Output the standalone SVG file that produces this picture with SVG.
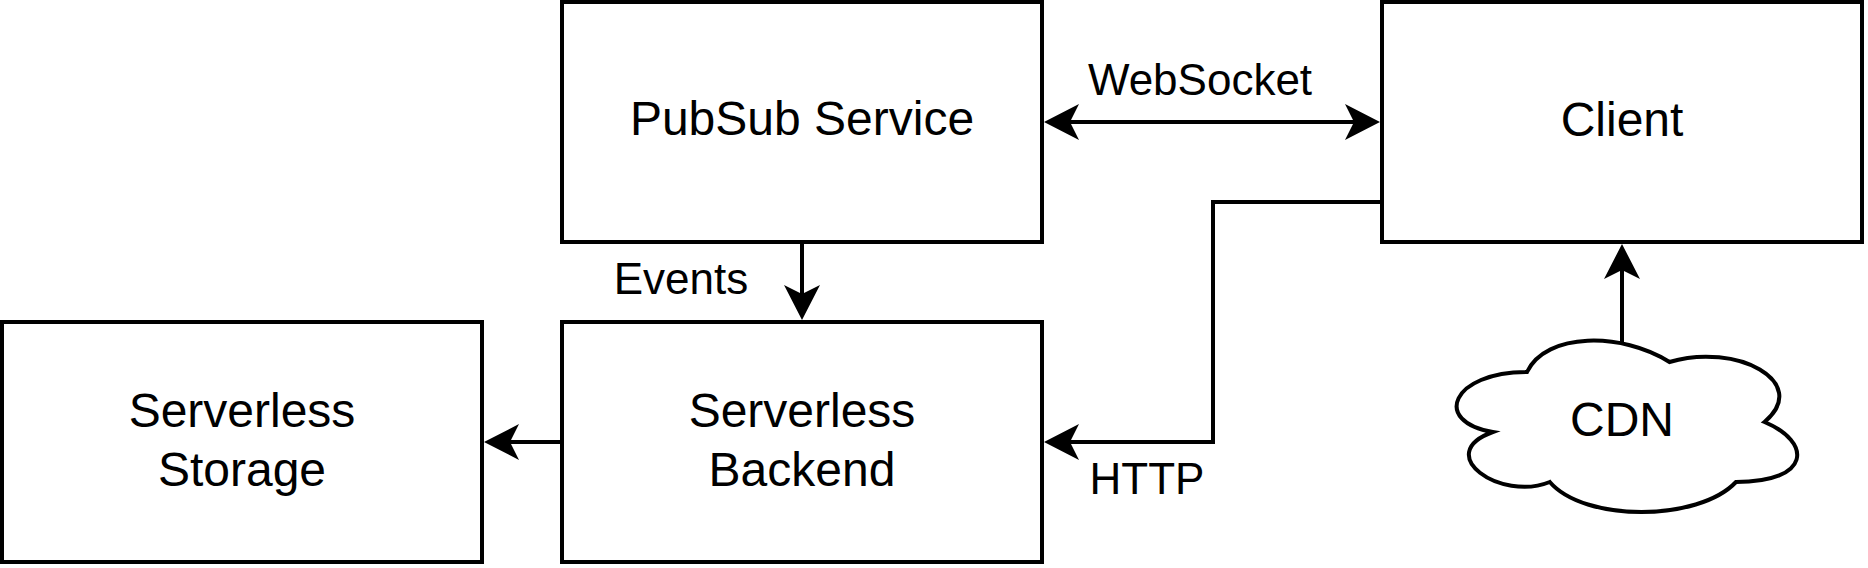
<svg xmlns="http://www.w3.org/2000/svg" width="1868" height="568" viewBox="0 0 1868 568">
<style>
.box{fill:#fff;stroke:#000;stroke-width:4}
.lbl{font-family:"Liberation Sans",Arial,sans-serif;font-size:48px;fill:#000;text-anchor:middle}
.elbl{font-family:"Liberation Sans",Arial,sans-serif;font-size:44px;fill:#000;text-anchor:middle}
.edge{fill:none;stroke:#000;stroke-width:4}
</style>
<defs>
<marker id="arr" markerUnits="userSpaceOnUse" viewBox="-10 -19 37 38" markerWidth="37" markerHeight="38" refX="0" refY="0" orient="auto-start-reverse">
<path d="M26,0 L-9,-18 L0,0 L-9,18 Z" fill="#000"/>
</marker>
</defs>
<rect width="1868" height="568" fill="#fff"/>
<g id="connectors">
<path class="edge" d="M1070,122 L1354,122" marker-start="url(#arr)" marker-end="url(#arr)"/>
<path class="edge" d="M802,242 L802,294" marker-end="url(#arr)"/>
<path class="edge" d="M562,442 L510,442" marker-end="url(#arr)"/>
<path class="edge" d="M1382,202 L1213,202 L1213,442 L1070,442" marker-end="url(#arr)"/>
<path class="edge" d="M1622,343 L1622,270" marker-end="url(#arr)"/>
<text class="elbl" x="1200" y="95">WebSocket</text>
<text class="elbl" x="681" y="294">Events</text>
<text class="elbl" x="1147" y="494">HTTP</text>
</g>
<g id="pubsub">
<rect class="box" x="562" y="2" width="480" height="240"/>
<text class="lbl" x="802" y="135">PubSub Service</text>
</g>
<g id="client">
<rect class="box" x="1382" y="2" width="480" height="240"/>
<text class="lbl" x="1622" y="136">Client</text>
</g>
<g id="backend">
<rect class="box" x="562" y="322" width="480" height="240"/>
<text class="lbl" x="802" y="427">Serverless</text>
<text class="lbl" x="802" y="486">Backend</text>
</g>
<g id="storage">
<rect class="box" x="2" y="322" width="480" height="240"/>
<text class="lbl" x="242" y="427">Serverless</text>
<text class="lbl" x="242" y="486">Storage</text>
</g>
<g id="cdn">
<path class="box" d="M1527,372 C1451,372 1432,422 1492.8,432 C1432,454 1500.4,502 1549.8,482 C1584,522 1698,522 1736,482 C1812,482 1812,442 1764.5,422 C1812,382 1736,342 1669.5,362 C1622,332 1546,332 1527,372 Z"/>
<text class="lbl" x="1622" y="436">CDN</text>
</g>
</svg>
